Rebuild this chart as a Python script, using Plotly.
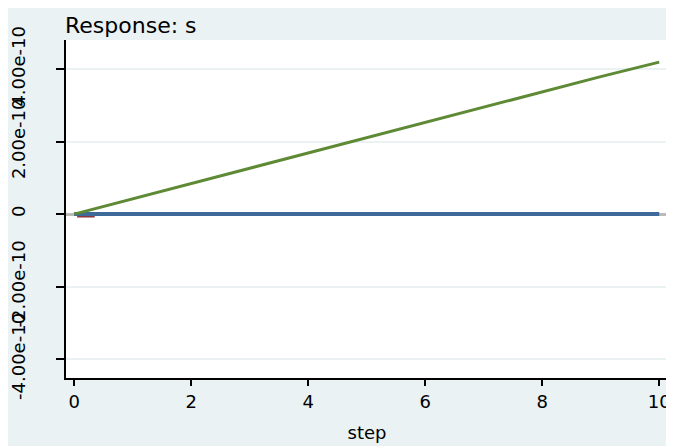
import plotly.graph_objects as go

steps = [0, 1, 2, 3, 4, 5, 6, 7, 8, 9, 10]
green_vals = [0, 0.42e-10, 0.85e-10, 1.26e-10, 1.68e-10, 2.11e-10, 2.54e-10, 2.96e-10, 3.37e-10, 3.79e-10, 4.19e-10]
blue_vals = [0, 0, 0, 0, 0, 0, 0, 0, 0, 0, 0]
maroon_steps = [0.05, 0.35]
maroon_vals = [-0.04e-10, -0.04e-10]

y_tickvals = [-4e-10, -2e-10, 0, 2e-10, 4e-10]
y_ticktext = ["-4.00e-10", "-2.00e-10", "0", "2.00e-10", "4.00e-10"]
x_tickvals = [0, 2, 4, 6, 8, 10]

fig = go.Figure()
fig.add_trace(go.Scatter(x=maroon_steps, y=maroon_vals, mode="lines",
                         line=dict(color="#90353b", width=4), showlegend=False))
fig.add_trace(go.Scatter(x=steps, y=blue_vals, mode="lines",
                         line=dict(color="#3d6a99", width=4), showlegend=False))
fig.add_trace(go.Scatter(x=steps, y=green_vals, mode="lines",
                         line=dict(color="#5f8a35", width=3), showlegend=False))

W, H = 666, 438
fig.update_layout(
    width=W, height=H,
    margin=dict(l=58, r=6, t=32, b=68),
    paper_bgcolor="#EAF2F3",
    plot_bgcolor="white",
    font=dict(family="DejaVu Sans", color="black"),
    title=dict(text="Response: s", x=57/W, xanchor="left", xref="container",
               y=1-17/H, yanchor="middle", yref="container",
               font=dict(size=22, color="black")),
    xaxis=dict(range=[-0.14, 10.15], tickvals=x_tickvals, showgrid=False,
               zeroline=False, showline=True, linecolor="black", linewidth=2,
               ticks="outside", ticklen=6, tickwidth=2, tickcolor="black",
               tickfont=dict(size=18), automargin=False,
               title=dict(text="step", font=dict(size=18), standoff=16)),
    yaxis=dict(range=[-4.52e-10, 4.8e-10], tickvals=y_tickvals, ticktext=y_ticktext,
               tickangle=-90, showgrid=True, gridcolor="#EAF2F3", gridwidth=2,
               zeroline=True, zerolinecolor="#bbbbbb", zerolinewidth=3,
               showline=True, linecolor="black", linewidth=2,
               ticks="outside", ticklen=8, tickwidth=2, tickcolor="black",
               tickfont=dict(size=18), ticklabelstandoff=24, automargin=False),
)

fig.write_html("out.html")
